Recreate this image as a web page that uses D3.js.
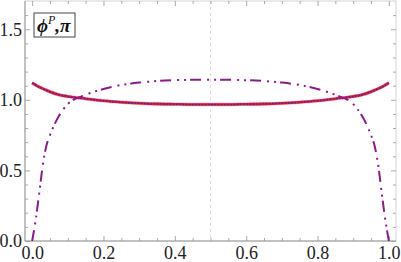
<!DOCTYPE html>
<html lang="en">
<head>
    <meta charset="UTF-8">
    <title>phi P, pi</title>
    <script src="https://d3js.org/d3.v7.min.js"></script>
    <style>
        body, html {
            margin: 0;
            background: white;
        }
        text {
            font-family: "Liberation Serif", "DejaVu Serif", serif;
        }
    </style>
</head>
<body>
    <svg id="chart"></svg>
    <script>
        const svgWidth = 401;
        const svgHeight = 262;

        // x positions along the interval
        const xs = [0, 0.01, 0.02, 0.03, 0.04, 0.05, 0.075, 0.1, 0.15, 0.2, 0.25, 0.3, 0.35, 0.4, 0.45, 0.5,
            0.55, 0.6, 0.65, 0.7, 0.75, 0.8, 0.85, 0.9, 0.925, 0.95, 0.96, 0.97, 0.98, 0.99, 1];
        // red solid / blue dotted curve (they coincide)
        const phiP = [1.12, 1.105, 1.091, 1.079, 1.068, 1.057, 1.036, 1.024, 1.008, 0.993, 0.983, 0.976, 0.971, 0.969, 0.967, 0.967,
            0.967, 0.969, 0.971, 0.976, 0.983, 0.993, 1.008, 1.024, 1.036, 1.057, 1.068, 1.079, 1.091, 1.105, 1.12];
        const piVals = phiP.slice();
        // purple dash-dot curve
        const other = [0, 0.15, 0.34, 0.54, 0.675, 0.75, 0.885, 0.97, 1.035, 1.077, 1.105, 1.122, 1.133, 1.139, 1.142, 1.143,
            1.142, 1.139, 1.133, 1.122, 1.105, 1.077, 1.035, 0.97, 0.885, 0.75, 0.675, 0.54, 0.34, 0.15, 0];

        const xMajor = [0, 0.2, 0.4, 0.6, 0.8, 1.0];
        const yMajor = [0, 0.5, 1.0, 1.5];

        const pLeft = 25, pRight = 396, pTop = 1, pBottom = 241;

        const svg = d3.select("#chart")
            .attr("width", svgWidth)
            .attr("height", svgHeight);

        const x = d3.scaleLinear().domain([-0.02, 1.02]).range([pLeft, pRight]);
        const y = d3.scaleLinear().domain([0, 1.7]).range([pBottom, pTop]);

        const xMinor = d3.range(0, 1.0001, 0.05).filter(v => !xMajor.some(m => Math.abs(m - v) < 1e-6));
        const yMinor = d3.range(0, 1.7, 0.1).filter(v => !yMajor.some(m => Math.abs(m - v) < 1e-6));

        // frame
        svg.append("rect")
            .attr("x", pLeft).attr("y", pTop)
            .attr("width", pRight - pLeft).attr("height", pBottom - pTop)
            .attr("fill", "none")
            .attr("stroke", "#d4d4d4")
            .attr("stroke-width", 1);

        // gridline at 0.5
        svg.append("line")
            .attr("x1", x(0.5)).attr("x2", x(0.5))
            .attr("y1", pTop).attr("y2", pBottom)
            .attr("stroke", "#dddddd")
            .attr("stroke-dasharray", "3,3");

        function drawAxis(axis, transform, labels) {
            const g = svg.append("g").attr("transform", transform).call(axis);
            g.select(".domain").remove();
            g.selectAll("line").attr("stroke", "#aaaaaa");
            if (!labels) g.selectAll("text").remove();
            return g;
        }

        // major ticks with labels
        const gx = drawAxis(d3.axisBottom(x).tickValues(xMajor).tickSize(-5).tickPadding(5).tickFormat(d3.format(".1f")),
            `translate(0,${pBottom})`, true);
        gx.selectAll("text").attr("font-size", 18).attr("fill", "#222").attr("dy", "0.7em");
        const gy = drawAxis(d3.axisLeft(y).tickValues(yMajor).tickSize(-5).tickPadding(3).tickFormat(d3.format(".1f")),
            `translate(${pLeft},0)`, true);
        gy.selectAll("text").attr("font-size", 18).attr("fill", "#222");

        // minor ticks and mirrored ticks
        drawAxis(d3.axisBottom(x).tickValues(xMinor).tickSize(-3), `translate(0,${pBottom})`, false);
        drawAxis(d3.axisLeft(y).tickValues(yMinor).tickSize(-3), `translate(${pLeft},0)`, false);
        drawAxis(d3.axisTop(x).tickValues(xMajor).tickSize(-5), `translate(0,${pTop})`, false);
        drawAxis(d3.axisTop(x).tickValues(xMinor).tickSize(-3), `translate(0,${pTop})`, false);
        drawAxis(d3.axisRight(y).tickValues(yMajor).tickSize(-5), `translate(${pRight},0)`, false);
        drawAxis(d3.axisRight(y).tickValues(yMinor).tickSize(-3), `translate(${pRight},0)`, false);

        // axis lines
        svg.append("line").attr("x1", pLeft).attr("x2", pLeft).attr("y1", pTop).attr("y2", pBottom)
            .attr("stroke", "#999");
        svg.append("line").attr("x1", pLeft).attr("x2", pRight).attr("y1", pBottom).attr("y2", pBottom)
            .attr("stroke", "#999");

        svg.append("clipPath").attr("id", "clip")
            .append("rect").attr("x", pLeft).attr("y", pTop)
            .attr("width", pRight - pLeft).attr("height", pBottom - pTop + 1);

        const line = vals => d3.line()
            .x((d, i) => x(xs[i]))
            .y(d => y(d))
            .curve(d3.curveMonotoneX)(vals);

        const plot = svg.append("g").attr("clip-path", "url(#clip)");

        plot.append("path")
            .attr("d", line(phiP))
            .attr("fill", "none")
            .attr("stroke", "#ffb0b0")
            .attr("stroke-width", 3.6);
        plot.append("path")
            .attr("d", line(phiP))
            .attr("fill", "none")
            .attr("stroke", "#ee1c1c")
            .attr("stroke-width", 2.6);
        plot.append("path")
            .attr("d", line(piVals))
            .attr("fill", "none")
            .attr("stroke", "#2a2ae0")
            .attr("stroke-width", 1.6)
            .attr("stroke-dasharray", "1.6,1.6");
        plot.append("path")
            .attr("d", line(other))
            .attr("fill", "none")
            .attr("stroke", "#8b1a8f")
            .attr("stroke-width", 2)
            .attr("stroke-dasharray", "11,6,2,5,2,4");

        // legend box
        svg.append("rect")
            .attr("x", 34).attr("y", 13)
            .attr("width", 41).attr("height", 24)
            .attr("fill", "white")
            .attr("stroke", "#444")
            .attr("stroke-width", 1);
        const lt = svg.append("text")
            .attr("x", 37).attr("y", 32)
            .attr("font-size", 19)
            .attr("font-style", "italic")
            .attr("font-weight", "bold")
            .attr("fill", "#111");
        lt.append("tspan").text("ϕ");
        lt.append("tspan").text("P").attr("font-size", 12).attr("font-weight", "normal").attr("dy", -8);
        lt.append("tspan").text(",π").attr("dy", 8);
    </script>
</body>
</html>
